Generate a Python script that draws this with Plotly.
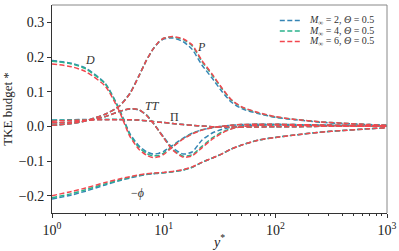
import math
import plotly.graph_objects as go

# y* grid
YS = [1, 1.5, 2, 3, 4, 5, 6, 7, 8, 9, 10, 12, 15, 18, 22, 27, 33, 40, 50, 70, 100, 150, 250, 400, 700, 1000]

# Production P
P2 = [0.003, 0.008, 0.016, 0.035, 0.058, 0.096, 0.146, 0.19, 0.222, 0.242, 0.252, 0.255, 0.244, 0.222, 0.177, 0.14, 0.102, 0.071, 0.051, 0.037, 0.026, 0.019, 0.012, 0.008, 0.005, 0.003]
P4 = [0.003, 0.008, 0.016, 0.035, 0.058, 0.095, 0.145, 0.19, 0.222, 0.243, 0.254, 0.258, 0.25, 0.232, 0.187, 0.149, 0.11, 0.077, 0.055, 0.039, 0.027, 0.02, 0.013, 0.009, 0.005, 0.003]
P6 = [0.003, 0.008, 0.016, 0.035, 0.058, 0.095, 0.145, 0.19, 0.222, 0.243, 0.254, 0.259, 0.252, 0.235, 0.19, 0.152, 0.112, 0.078, 0.056, 0.04, 0.028, 0.02, 0.013, 0.009, 0.005, 0.003]

# Viscous diffusion D
D2 = [0.19, 0.182, 0.168, 0.124, 0.05, -0.022, -0.056, -0.073, -0.08, -0.078, -0.072, -0.055, -0.034, -0.02, -0.01, -0.004, 0.0, 0.003, 0.005, 0.006, 0.006, 0.005, 0.004, 0.003, 0.002, 0.001]
D4 = [0.188, 0.18, 0.166, 0.122, 0.048, -0.026, -0.061, -0.078, -0.085, -0.084, -0.077, -0.058, -0.035, -0.021, -0.01, -0.004, 0.0, 0.003, 0.005, 0.006, 0.006, 0.005, 0.004, 0.003, 0.002, 0.001]
D6 = [0.18, 0.172, 0.158, 0.116, 0.044, -0.03, -0.066, -0.083, -0.09, -0.088, -0.081, -0.06, -0.036, -0.022, -0.011, -0.004, 0.0, 0.003, 0.005, 0.006, 0.006, 0.005, 0.004, 0.003, 0.002, 0.001]

# Turbulent transport TT
TT2 = [0.01, 0.012, 0.016, 0.028, 0.043, 0.05, 0.047, 0.033, 0.011, -0.011, -0.031, -0.062, -0.08, -0.074, -0.04, -0.02, -0.009, -0.003, 0.001, 0.003, 0.004, 0.003, 0.002, 0.001, 0.0, 0.0]
TT4 = [0.01, 0.012, 0.016, 0.028, 0.043, 0.051, 0.048, 0.033, 0.011, -0.012, -0.033, -0.066, -0.086, -0.082, -0.058, -0.034, -0.017, -0.007, 0.0, 0.003, 0.004, 0.003, 0.002, 0.001, 0.0, 0.0]
TT6 = [0.01, 0.012, 0.016, 0.028, 0.043, 0.051, 0.048, 0.032, 0.01, -0.012, -0.033, -0.068, -0.089, -0.085, -0.062, -0.038, -0.02, -0.008, -0.001, 0.003, 0.004, 0.003, 0.002, 0.001, 0.0, 0.0]

# Pressure transport Pi
PI2 = [0.018, 0.019, 0.02, 0.02, 0.02, 0.019, 0.018, 0.016, 0.014, 0.012, 0.011, 0.008, 0.005, 0.003, 0.001, -0.001, -0.002, -0.002, -0.002, -0.002, -0.001, -0.001, 0.0, 0.0, 0.0, 0.0]
PI4 = [0.017, 0.018, 0.019, 0.02, 0.02, 0.019, 0.018, 0.016, 0.014, 0.012, 0.011, 0.008, 0.005, 0.003, 0.001, -0.001, -0.002, -0.002, -0.002, -0.002, -0.001, -0.001, 0.0, 0.0, 0.0, 0.0]
PI6 = [0.015, 0.017, 0.018, 0.019, 0.019, 0.019, 0.018, 0.016, 0.014, 0.012, 0.011, 0.008, 0.005, 0.003, 0.001, -0.001, -0.002, -0.002, -0.002, -0.002, -0.001, -0.001, 0.0, 0.0, 0.0, 0.0]

# Dissipation -phi
PHI2 = [-0.21, -0.198, -0.187, -0.169, -0.157, -0.149, -0.143, -0.139, -0.137, -0.135, -0.134, -0.131, -0.126, -0.118, -0.104, -0.092, -0.08, -0.066, -0.054, -0.04, -0.032, -0.025, -0.017, -0.012, -0.007, -0.004]
PHI4 = [-0.206, -0.194, -0.183, -0.166, -0.155, -0.147, -0.141, -0.138, -0.136, -0.135, -0.134, -0.131, -0.126, -0.118, -0.104, -0.092, -0.08, -0.066, -0.054, -0.04, -0.032, -0.025, -0.017, -0.012, -0.007, -0.004]
PHI6 = [-0.2, -0.188, -0.178, -0.162, -0.152, -0.145, -0.14, -0.137, -0.135, -0.134, -0.133, -0.13, -0.125, -0.117, -0.104, -0.092, -0.08, -0.066, -0.054, -0.04, -0.032, -0.025, -0.017, -0.012, -0.007, -0.004]

CASES = ["<i>M</i><sub>∞</sub> = 2, <i>Θ</i> = 0.5",
         "<i>M</i><sub>∞</sub> = 4, <i>Θ</i> = 0.5",
         "<i>M</i><sub>∞</sub> = 6, <i>Θ</i> = 0.5"]
COLORS = ["#3585b5", "#2bb38c", "#f2474f"]
SERIES = [
    [P2, D2, TT2, PI2, PHI2],
    [P4, D4, TT4, PI4, PHI4],
    [P6, D6, TT6, PI6, PHI6],
]

LABELS = ["<i>D</i>", "<i>P</i>", "<i>TT</i>", "Π", "−<i>ϕ</i>"]
LABEL_X = [2.2, 22.0, 7.9, 12.6, 5.8]
LABEL_Y = [0.19, 0.23, 0.058, 0.026, -0.193]

XTICKS = [1, 10, 100, 1000]
XTICKTEXT = ["10<sup>0</sup>", "10<sup>1</sup>", "10<sup>2</sup>", "10<sup>3</sup>"]
YTICKS = [-0.2, -0.1, 0.0, 0.1, 0.2, 0.3]
YTICKTEXT = ["−0.2", "−0.1", "0.0", "0.1", "0.2", "0.3"]

FONT = "Liberation Serif"

fig = go.Figure()
for ci, (name, color, terms) in enumerate(zip(CASES, COLORS, SERIES)):
    for ti, vals in enumerate(terms):
        fig.add_trace(go.Scatter(
            x=YS, y=vals, mode="lines", name=name, legendgroup=name,
            showlegend=False, hoverinfo="skip",
            line=dict(color=color, width=1.5, dash="5px,2.5px", shape="spline", smoothing=0.6),
        ))

for t, x, y in zip(LABELS, LABEL_X, LABEL_Y):
    fig.add_annotation(x=math.log10(x), y=y, text=t, showarrow=False,
                       font=dict(family=FONT, size=12, color="#333"))

# custom legend (compact, like the reference)
for i, (name, color) in enumerate(zip(CASES, COLORS)):
    yy = 0.925 - i * 0.05
    fig.add_shape(type="line", xref="paper", yref="paper", x0=0.68, x1=0.74, y0=yy, y1=yy,
                  line=dict(color=color, width=1.5, dash="5px,2.5px"))
    fig.add_annotation(xref="paper", yref="paper", x=0.762, y=yy, xanchor="left", yanchor="middle",
                       text=name, showarrow=False, font=dict(family=FONT, size=10, color="#333"))

# top/right spines in grey
fig.add_shape(type="line", xref="paper", yref="paper", x0=0, x1=1, y0=1, y1=1, line=dict(color="#888", width=1))
fig.add_shape(type="line", xref="paper", yref="paper", x0=1, x1=1, y0=0, y1=1, line=dict(color="#888", width=1))

fig.update_layout(
    width=399, height=251,
    margin=dict(l=52, r=12, t=5, b=38, autoexpand=False),
    plot_bgcolor="white", paper_bgcolor="white",
    font=dict(family=FONT, size=14, color="#222"),
    showlegend=False,
    hovermode=False,
    xaxis=dict(type="log", range=[0, 3], tickvals=XTICKS, ticktext=XTICKTEXT, automargin=False,
               ticks="outside", ticklen=4, tickcolor="#333", showline=True, linecolor="#333", linewidth=1,
               showgrid=False, zeroline=False,
               minor=dict(ticks="outside", ticklen=2, tickcolor="#333",
                          tickvals=[a * b for b in (1, 10, 100) for a in range(2, 10)]),
               title=dict(text="<i>y</i><sup>*</sup>", font=dict(size=14), standoff=0)),
    yaxis=dict(range=[-0.25, 0.35], tickvals=YTICKS, ticktext=YTICKTEXT, automargin=False,
               ticks="outside", ticklen=4, tickcolor="#333", showline=True, linecolor="#333", linewidth=1,
               showgrid=False, zeroline=False,
               title=dict(text="TKE budget *", font=dict(size=13), standoff=4)),
)

fig.write_html("out.html", config={"displayModeBar": False, "staticPlot": True},
               post_script="document.body.style.margin='0px';document.body.style.overflow='hidden';")
